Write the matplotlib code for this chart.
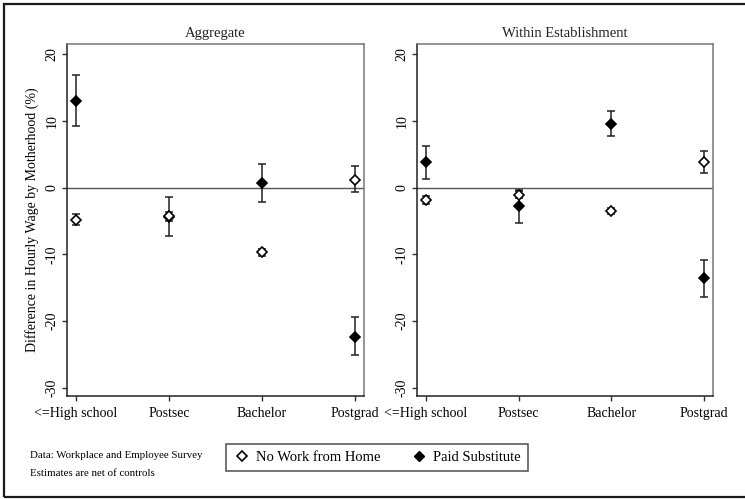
import matplotlib.pyplot as plt
from matplotlib.lines import Line2D
from matplotlib.patches import Rectangle

plt.rcParams['font.family'] = ['Liberation Serif', 'DejaVu Serif']

categories = ['<=High school', 'Postsec', 'Bachelor', 'Postgrad']
panels = ['Aggregate', 'Within Establishment']

# point estimates and 95% CI bounds, per panel
nowfh_est = [[-4.8, -4.3, -9.7, 1.2], [-1.8, -1.05, -3.5, 3.8]]
nowfh_lo = [[-5.6, -5.0, -10.2, -0.65], [-2.4, -1.6, -4.0, 2.2]]
nowfh_hi = [[-4.0, -3.7, -9.2, 3.3], [-1.2, -0.4, -3.0, 5.5]]

paid_est = [[13.0, -4.4, 0.7, -22.3], [3.8, -2.8, 9.55, -13.6]]
paid_lo = [[9.2, -7.2, -2.1, -25.1], [1.3, -5.3, 7.7, -16.4]]
paid_hi = [[16.8, -1.45, 3.6, -19.3], [6.3, -0.5, 11.5, -10.8]]

yticks = [20, 10, 0, -10, -20, -30]

fig = plt.figure(figsize=(7.45, 4.99), dpi=100)
fig.patch.set_facecolor('white')

# outer frame
fig.patches.append(Rectangle((4 / 745, 2 / 499), 745, 493 / 499, transform=fig.transFigure,
                             fill=False, edgecolor='#1a1a1a', lw=1.6))

boxes = [[0.0899, 0.2064, 0.3987, 0.7054], [0.5597, 0.2064, 0.3973, 0.7054]]
x = list(range(1, len(categories) + 1))

for i, (title, box) in enumerate(zip(panels, boxes)):
    ax = fig.add_axes(box)
    ax.axhline(0, color='#555555', lw=1.0, zorder=1)

    for est, lo, hi, face in [(paid_est[i], paid_lo[i], paid_hi[i], 'black'),
                              (nowfh_est[i], nowfh_lo[i], nowfh_hi[i], 'white')]:
        yerr = [[e - l for e, l in zip(est, lo)], [h - e for e, h in zip(est, hi)]]
        ax.errorbar(x, est, yerr=yerr, fmt='none', ecolor='#222222', elinewidth=1.1,
                    capsize=3.2, capthick=1.1, zorder=2)
        ax.plot(x, est, 'D', markersize=5.2, markerfacecolor=face,
                markeredgecolor='black', markeredgewidth=1.2, ls='none', zorder=3)

    ax.set_xlim(0.903, 4.1)
    ax.set_ylim(-31.2, 21.5)
    ax.set_xticks(x)
    ax.set_xticklabels(categories, fontsize=10)
    ax.set_yticks(yticks)
    ax.set_yticklabels([str(t) for t in yticks], fontsize=10, rotation=90, va='center')
    ax.tick_params(axis='y', direction='out', length=3.6, width=1, color='#333333', pad=2.5)
    ax.tick_params(axis='x', direction='out', length=3.6, width=1, color='#333333', pad=4)
    for side in ['left', 'bottom']:
        ax.spines[side].set_color('#222222')
    for side in ['top', 'right']:
        ax.spines[side].set_color('#777777')
    for s in ax.spines.values():
        s.set_linewidth(1.1)
    ax.set_title(title, fontsize=10.5, pad=5, color='#222222')
    if i == 0:
        ax.set_ylabel('Difference in Hourly Wage by Motherhood (%)', fontsize=10, labelpad=5)

fig.text(30 / 745, 1 - 456 / 499, 'Data: Workplace and Employee Survey', fontsize=7.8,
         va='center', ha='left')
fig.text(30 / 745, 1 - 473 / 499, 'Estimates are net of controls', fontsize=7.8,
         va='center', ha='left')

handles = [Line2D([], [], marker='D', ls='none', markersize=5.5, markerfacecolor='white',
                  markeredgecolor='black', markeredgewidth=1.2),
           Line2D([], [], marker='D', ls='none', markersize=5.5, markerfacecolor='black',
                  markeredgecolor='black')]
leg = fig.legend(handles, ['No Work from Home', 'Paid Substitute'], ncol=2,
                 loc='center', bbox_to_anchor=(377 / 745, 1 - 457.5 / 499),
                 fontsize=10.5, frameon=True, fancybox=False, edgecolor='#222222',
                 handletextpad=0.4, columnspacing=2.0, borderpad=0.5, handlelength=1.2)
leg.get_frame().set_linewidth(1.1)

fig.savefig('out.png', dpi=100)
